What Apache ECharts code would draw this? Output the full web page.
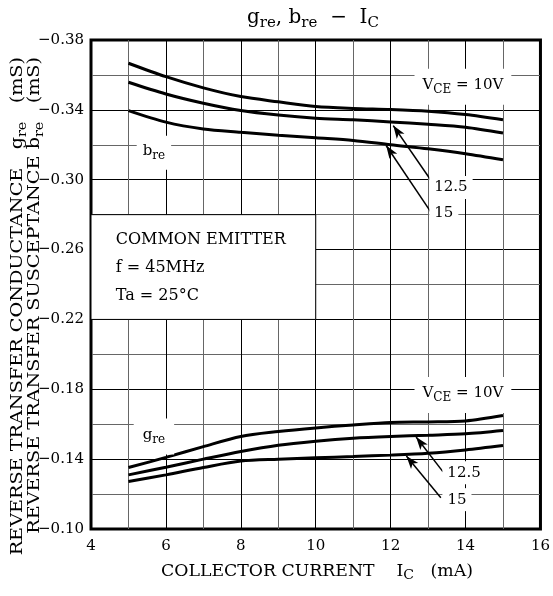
<!DOCTYPE html>
<html>
<head>
<meta charset="utf-8">
<script src="https://cdn.jsdelivr.net/npm/echarts@6/dist/echarts.min.js"></script>
<style>
  html, body { margin: 0; padding: 0; background: #fff; }
  #chart { width: 553px; height: 596px; }
</style>
</head>
<body>
<div id="chart"></div>
<script>
// collector current (mA)
const currentMA = [5, 6, 7, 8, 9, 10, 11, 12, 13, 14, 15];
// reverse transfer susceptance bre (mS)
const bre10 = [-0.3667, -0.3590, -0.3526, -0.3476, -0.3446, -0.3419, -0.3408, -0.3402, -0.3392, -0.3373, -0.3343];
const bre125 = [-0.3558, -0.3491, -0.3438, -0.3396, -0.3370, -0.3352, -0.3343, -0.3331, -0.3318, -0.3301, -0.3267];
const bre15 = [-0.3396, -0.3330, -0.3291, -0.3272, -0.3255, -0.3240, -0.3225, -0.3200, -0.3177, -0.3149, -0.3114];
// reverse transfer conductance gre (mS)
const gre10 = [-0.1352, -0.1410, -0.1472, -0.1530, -0.1558, -0.1579, -0.1596, -0.1610, -0.1613, -0.1619, -0.1650];
const gre125 = [-0.1310, -0.1354, -0.1400, -0.1444, -0.1480, -0.1503, -0.1520, -0.1530, -0.1537, -0.1545, -0.1564];
const gre15 = [-0.1272, -0.1310, -0.1352, -0.1389, -0.1400, -0.1408, -0.1415, -0.1423, -0.1434, -0.1453, -0.1478];

const xTicks = { min: 4, max: 16, step: 2 };
const yTicks = { min: -0.38, max: -0.10, step: 0.04 };

const FONT = "DejaVu Serif";

let chart = echarts.init(document.getElementById("chart"));

function pairs(ys) {
  return currentMA.map(function (x, i) {
    return [x, ys[i]];
  });
}

// text with smaller, dropped subscripts
function subRich(size, subSize, drop) {
  return {
    a: {
      fontFamily: FONT,
      fontSize: size,
      fontWeight: "normal",
      lineHeight: size + 3,
      verticalAlign: "top",
      color: "#000",
    },
    s: {
      fontFamily: FONT,
      fontSize: subSize,
      fontWeight: "normal",
      lineHeight: subSize,
      padding: [size + 3 - subSize + drop, 0, 0, 0],
      verticalAlign: "bottom",
      color: "#000",
    },
  };
}

function note(x, y, text, extra) {
  return {
    coord: [x, y],
    symbol: "rect",
    symbolSize: 0,
    label: Object.assign(
      {
        show: true,
        position: "inside",
        formatter: text,
        fontFamily: FONT,
        fontSize: 15,
        color: "#000",
        backgroundColor: "#fff",
        padding: [6, 7],
        rich: subRich(15, 12, 3),
      },
      extra || {}
    ),
  };
}

function arrow(from, to) {
  return [
    { coord: from, symbol: "none" },
    { coord: to, symbol: "arrow" },
  ];
}

function curve(name, ys) {
  return {
    name: name,
    type: "line",
    data: pairs(ys),
    smooth: 0.3,
    symbol: "none",
    lineStyle: { color: "#000", width: 3 },
    z: 3,
  };
}

let series = [
  curve("bre 10V", bre10),
  curve("bre 12.5V", bre125),
  curve("bre 15V", bre15),
  curve("gre 10V", gre10),
  curve("gre 12.5V", gre125),
  curve("gre 15V", gre15),
];

// condition box
series[0].markArea = {
  silent: true,
  itemStyle: { color: "#fff", borderColor: "#000", borderWidth: 1 },
  data: [[{ coord: [4, -0.28] }, { coord: [10, -0.22] }]],
};

// labels
series[1].markPoint = {
  silent: true,
  data: [
    note(13.93, -0.3533, "{a|V}{s|CE}{a| = 10V}", { padding: [9, 8] }),
    note(13.93, -0.1767, "{a|V}{s|CE}{a| = 10V}", { padding: [9, 8] }),
    note(5.68, -0.3155, "{a|b}{s|re}", { padding: [8, 6] }),
    note(5.68, -0.1530, "{a|g}{s|re}", { padding: [9, 9] }),
    note(13.61, -0.2956, "12.5", { padding: [4, 5] }),
    note(13.42, -0.2808, "15", { padding: [4, 5] }),
    note(13.96, -0.1322, "12.5", { padding: [4, 5] }),
    note(13.77, -0.1168, "15", { padding: [4, 5] }),
    note(4.66, -0.2493, "COMMON EMITTER\nf = 45MHz\nTa = 25°C", {
      align: "left",
      fontSize: 16,
      lineHeight: 28,
      padding: 0,
      backgroundColor: "transparent",
    }),
  ],
};

// arrows to the curves
series[2].markLine = {
  silent: true,
  symbolSize: [7, 13],
  label: { show: false },
  lineStyle: { color: "#000", width: 1.5, type: "solid" },
  data: [
    arrow([13.13, -0.298], [12.07, -0.331]),
    arrow([13.08, -0.2813], [11.88, -0.3196]),
    arrow([13.4, -0.1327], [12.68, -0.1527]),
    arrow([13.34, -0.1179], [12.42, -0.1418]),
  ],
};

let option = {
  animation: false,
  backgroundColor: "#fff",
  title: {
    text: "{a|g}{s|re}{a|, b}{s|re}{a|  −  I}{s|C}",
    left: 242,
    top: 3,
    textStyle: { fontWeight: "normal", rich: subRich(20, 15, 4) },
  },
  grid: {
    left: 91,
    right: 10,
    top: 40,
    bottom: 67,
    show: true,
    borderColor: "#000",
    borderWidth: 3,
    backgroundColor: "transparent",
  },
  xAxis: {
    type: "value",
    min: xTicks.min,
    max: xTicks.max,
    interval: xTicks.step,
    axisLine: { show: false },
    axisTick: { show: false },
    axisLabel: { fontFamily: FONT, fontSize: 15, color: "#000", margin: 10 },
    splitLine: { show: true, lineStyle: { color: "#000", width: 1 } },
    minorTick: { show: false, splitNumber: 2 },
    minorSplitLine: { show: true, lineStyle: { color: "#666", width: 1 } },
  },
  yAxis: {
    type: "value",
    inverse: true,
    min: yTicks.min,
    max: yTicks.max,
    interval: yTicks.step,
    axisLine: { show: false },
    axisTick: { show: false },
    axisLabel: {
      fontFamily: FONT,
      fontSize: 15,
      color: "#000",
      margin: 7,
      formatter: function (v) {
        return "\u2212" + Math.abs(v).toFixed(2);
      },
    },
    splitLine: { show: true, lineStyle: { color: "#000", width: 1 } },
    minorTick: { show: false, splitNumber: 2 },
    minorSplitLine: { show: true, lineStyle: { color: "#666", width: 1 } },
  },
  graphic: [
    {
      type: "text",
      x: 317,
      y: 573,
      scaleX: 1.08,
      style: {
        text: "{a|COLLECTOR CURRENT    I}{s|C}{a|   (mA)}",
        align: "center",
        verticalAlign: "middle",
        rich: subRich(16, 13, 4),
      },
    },
    {
      type: "text",
      x: 19,
      y: 57,
      rotation: Math.PI / 2,
      scaleX: 1.2,
      style: {
        text: "{a|REVERSE TRANSFER CONDUCTANCE   g}{s|re}{a|   (mS)}",
        align: "right",
        verticalAlign: "middle",
        rich: subRich(16, 12, 3),
      },
    },
    {
      type: "text",
      x: 36,
      y: 57,
      rotation: Math.PI / 2,
      scaleX: 1.2,
      style: {
        text: "{a|REVERSE TRANSFER SUSCEPTANCE b}{s|re}{a|   (mS)}",
        align: "right",
        verticalAlign: "middle",
        rich: subRich(16, 12, 3),
      },
    },
  ],
  series: series,
};

chart.setOption(option);
</script>
</body>
</html>
